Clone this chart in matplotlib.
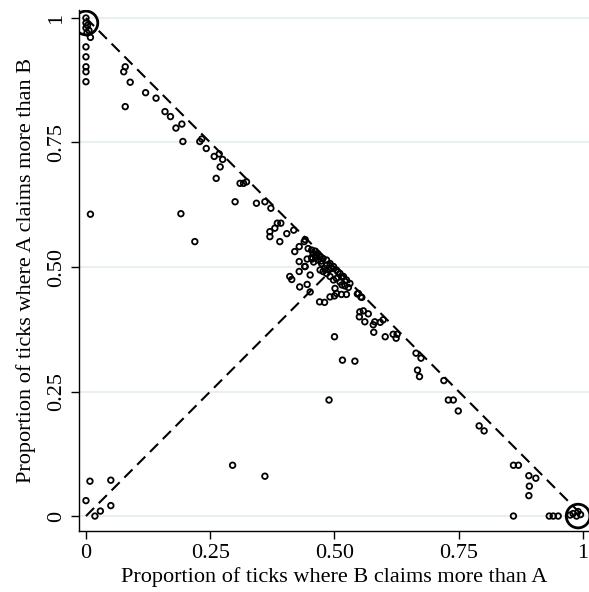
import matplotlib
matplotlib.use("Agg")
import matplotlib.pyplot as plt
import numpy as np

plt.rcParams['font.family'] = ['Liberation Serif', 'DejaVu Serif']

# proportion of ticks where B claims more than A (x) / A claims more than B (y)
corner_a_x = [0, 0, 0.003, 0, 0.006, 0.002, 0.009, 0, 0, 0, 0, 0]
corner_a_y = [1.0, 0.99, 0.985, 0.98, 0.975, 0.97, 0.961, 0.942, 0.922, 0.902, 0.892, 0.872]

corner_b_x = [0.974, 0.980, 0.987, 0.990, 0.995, 0.932, 0.940, 0.950, 0.860]
corner_b_y = [0.002, 0.005, 0, 0.009, 0.003, 0, 0, 0, 0]

low_x = [0.008, 0.050, 0, 0.018, 0.029, 0.050]
low_y = [0.070, 0.072, 0.031, 0, 0.010, 0.021]

stray_x = [0.009, 0.191, 0.219, 0.295, 0.360, 0.489, 0.500, 0.516, 0.541]
stray_y = [0.606, 0.607, 0.551, 0.102, 0.080, 0.233, 0.360, 0.313, 0.311]

upper_x = [0.079, 0.076, 0.089, 0.079, 0.120, 0.141, 0.159, 0.170, 0.193, 0.181,
           0.195, 0.233, 0.229, 0.242, 0.258, 0.268, 0.275, 0.270, 0.262, 0.310,
           0.317, 0.323, 0.300, 0.343, 0.360, 0.372, 0.385, 0.392, 0.380, 0.370,
           0.370, 0.404, 0.418, 0.390]
upper_y = [0.902, 0.892, 0.871, 0.822, 0.850, 0.839, 0.812, 0.802, 0.787, 0.779,
           0.752, 0.757, 0.752, 0.738, 0.722, 0.727, 0.716, 0.701, 0.678, 0.668,
           0.668, 0.671, 0.631, 0.628, 0.631, 0.618, 0.588, 0.588, 0.578, 0.571,
           0.561, 0.567, 0.574, 0.551]

mid_x = [0.420, 0.429, 0.439, 0.441, 0.429, 0.445, 0.440, 0.455, 0.429, 0.451,
         0.410, 0.414, 0.430, 0.445, 0.451, 0.470, 0.480, 0.447, 0.454, 0.457,
         0.464, 0.471, 0.477, 0.484, 0.491, 0.498, 0.504, 0.511, 0.518, 0.524,
         0.454, 0.441, 0.491, 0.500, 0.471, 0.477, 0.484, 0.491, 0.498, 0.504,
         0.511, 0.515, 0.521, 0.528, 0.531, 0.501, 0.504, 0.514, 0.524, 0.548,
         0.553, 0.474, 0.484, 0.467, 0.481, 0.488, 0.461, 0.466, 0.473, 0.494,
         0.507, 0.515, 0.462, 0.458]
mid_y = [0.531, 0.541, 0.551, 0.555, 0.511, 0.516, 0.501, 0.516, 0.491, 0.484,
         0.481, 0.475, 0.460, 0.465, 0.450, 0.430, 0.429, 0.537, 0.534, 0.527,
         0.524, 0.521, 0.517, 0.514, 0.507, 0.501, 0.494, 0.487, 0.481, 0.474,
         0.519, 0.501, 0.440, 0.442, 0.494, 0.491, 0.487, 0.481, 0.474, 0.477,
         0.470, 0.464, 0.462, 0.459, 0.467, 0.457, 0.447, 0.445, 0.445, 0.447,
         0.440, 0.507, 0.504, 0.514, 0.497, 0.494, 0.532, 0.527, 0.512, 0.497,
         0.490, 0.480, 0.519, 0.510]

lower_x = [0.546, 0.555, 0.551, 0.558, 0.568, 0.550, 0.561, 0.581, 0.592, 0.598,
           0.578, 0.579, 0.602, 0.618, 0.626, 0.624, 0.664, 0.674, 0.667, 0.671,
           0.720, 0.729, 0.739, 0.749, 0.791, 0.801, 0.860, 0.870, 0.891, 0.905,
           0.892, 0.891]
lower_y = [0.446, 0.439, 0.410, 0.412, 0.406, 0.400, 0.390, 0.390, 0.389, 0.394,
           0.384, 0.369, 0.360, 0.365, 0.365, 0.357, 0.327, 0.317, 0.293, 0.280,
           0.272, 0.233, 0.233, 0.211, 0.181, 0.171, 0.102, 0.102, 0.081, 0.076,
           0.060, 0.041]

# highlighted corner observations
ring_x = [0, 0.99]
ring_y = [0.99, 0]

ticks = [0, 0.25, 0.5, 0.75, 1]
tick_labels = ['0', '0.25', '0.50', '0.75', '1']

fig = plt.figure(figsize=(5.89, 5.92), dpi=100)
ax = fig.add_axes([79 / 589, 1 - 531 / 592, 510 / 589, 521 / 592])

xs = np.concatenate([corner_a_x, corner_b_x, low_x, stray_x, upper_x, mid_x, lower_x])
ys = np.concatenate([corner_a_y, corner_b_y, low_y, stray_y, upper_y, mid_y, lower_y])

ax.set_yticks(ticks)
ax.yaxis.grid(True, color='#e9f0f2', linewidth=1.5, zorder=0)
ax.set_axisbelow(True)

ax.plot([0, 1], [1, 0], color='black', lw=1.5, dashes=(5.5, 3.2), zorder=2)
ax.plot([0, 0.5], [0, 0.5], color='black', lw=1.5, dashes=(5.5, 3.2), zorder=2)

ax.scatter(xs, ys, s=16, facecolors='none', edgecolors='black', linewidths=1.3, zorder=3)
ax.scatter(ring_x, ring_y, s=290, facecolors='none', edgecolors='black', linewidths=2.0, zorder=4)

ax.set_xlim(-0.014, 1.012)
ax.set_ylim(-0.030, 1.016)
ax.set_xticks(ticks)
ax.set_xticklabels(tick_labels)
ax.set_yticklabels(tick_labels, rotation=90, va='center')

for side in ['top', 'right']:
  ax.spines[side].set_visible(False)
for side in ['left', 'bottom']:
  ax.spines[side].set_linewidth(1.0)

ax.tick_params(axis='both', direction='out', length=6, width=1.0, labelsize=16, pad=3)
ax.set_xlabel('Proportion of ticks where B claims more than A', fontsize=16, labelpad=3)
ax.set_ylabel('Proportion of ticks where A claims more than B', fontsize=16, labelpad=8)

fig.savefig('out.png', dpi=100)
